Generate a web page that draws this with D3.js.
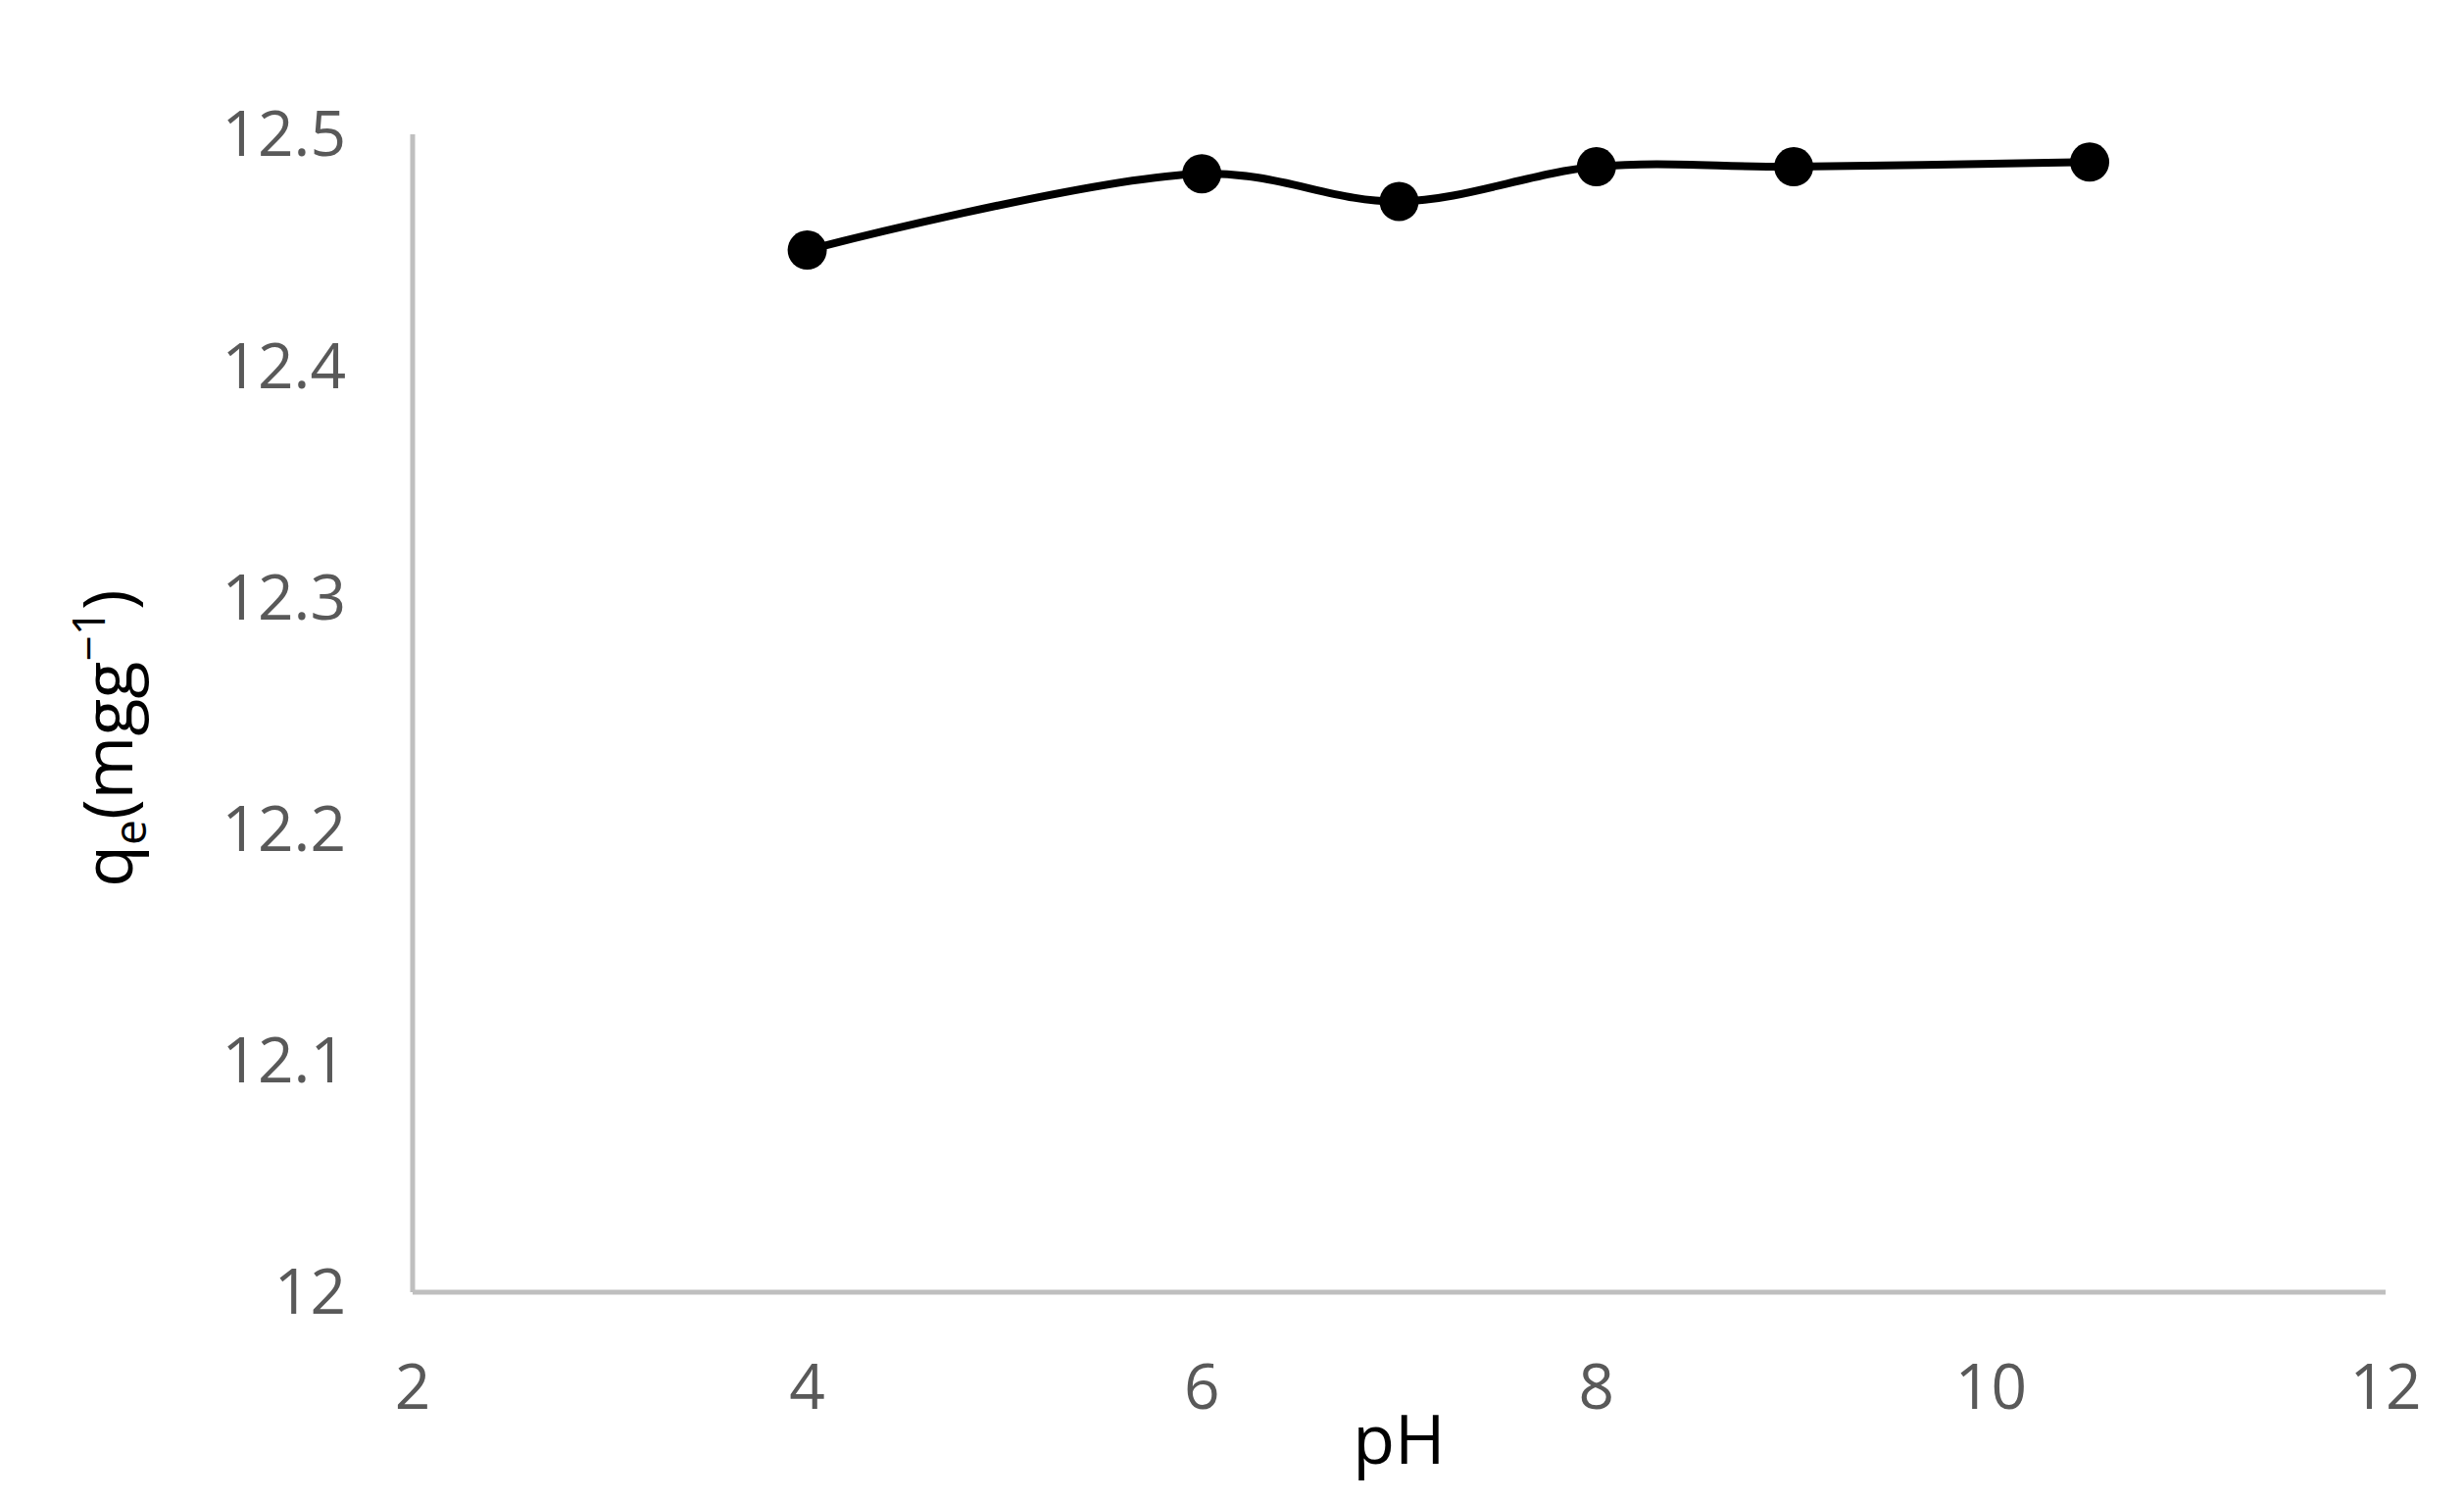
<!DOCTYPE html>
<html><head><meta charset="utf-8">
<script src="https://cdn.jsdelivr.net/npm/d3@7"></script>
<style>body{margin:0;background:#fff}text{font-family:"Liberation Sans Narrow","Open Sans",sans-serif}</style>
</head><body><svg id="c" width="2514" height="1532"></svg>
<script>
const phValues = [4, 6, 7, 8, 9, 10.5];
const qeValues = [12.450, 12.483, 12.471, 12.486, 12.486, 12.488];
const xTicks = [2, 4, 6, 8, 10, 12];
const yTicks = [12, 12.1, 12.2, 12.3, 12.4, 12.5];

const svg = d3.select("#c");
const x = d3.scaleLinear().domain([2, 12]).range([421, 2434]);
const y = d3.scaleLinear().domain([12, 12.5]).range([1318, 137]);

svg.append("line").attr("x1", x(2)).attr("x2", x(2)).attr("y1", y(12)).attr("y2", y(12.5))
    .attr("stroke", "#bfbfbf").attr("stroke-width", 5);
svg.append("line").attr("x1", x(2)).attr("x2", x(12)).attr("y1", y(12)).attr("y2", y(12))
    .attr("stroke", "#bfbfbf").attr("stroke-width", 5);

svg.selectAll(".yt").data(yTicks).enter().append("text")
    .attr("x", x(2) - 68).attr("y", d => y(d)).attr("dy", "0.35em")
    .attr("text-anchor", "end").attr("font-size", 64).attr("fill", "#595959")
    .text(d => d3.format("")(+d.toFixed(1)));
svg.selectAll(".xt").data(xTicks).enter().append("text")
    .attr("x", d => x(d)).attr("y", 1415).attr("dy", "0.35em")
    .attr("text-anchor", "middle").attr("font-size", 64).attr("fill", "#595959")
    .text(d => d);

svg.append("text").attr("x", x(7)).attr("y", 1468).attr("dy", "0.35em")
    .attr("text-anchor", "middle").attr("font-size", 70).attr("fill", "#000").text("pH");

const yl = svg.append("text").attr("transform", "translate(135,753) rotate(-90)")
    .attr("text-anchor", "middle").attr("font-size", 70).attr("fill", "#000")
    .style("font-family", "'Open Sans',sans-serif");
yl.append("tspan").text("q");
yl.append("tspan").attr("font-size", 46).attr("dy", 14).text("e");
yl.append("tspan").attr("dy", -14).text("(mgg");
yl.append("tspan").attr("font-size", 46).attr("dy", -28).text("−1");
yl.append("tspan").attr("dy", 28).text(")");

const line = d3.line().x((d, i) => x(phValues[i])).y(d => y(d)).curve(d3.curveCatmullRom.alpha(0.5));
svg.append("path").attr("d", line(qeValues)).attr("fill", "none")
    .attr("stroke", "#000").attr("stroke-width", 8);
svg.selectAll(".pt").data(qeValues).enter().append("circle")
    .attr("cx", (d, i) => x(phValues[i])).attr("cy", d => y(d)).attr("r", 20).attr("fill", "#000");
</script></body></html>
